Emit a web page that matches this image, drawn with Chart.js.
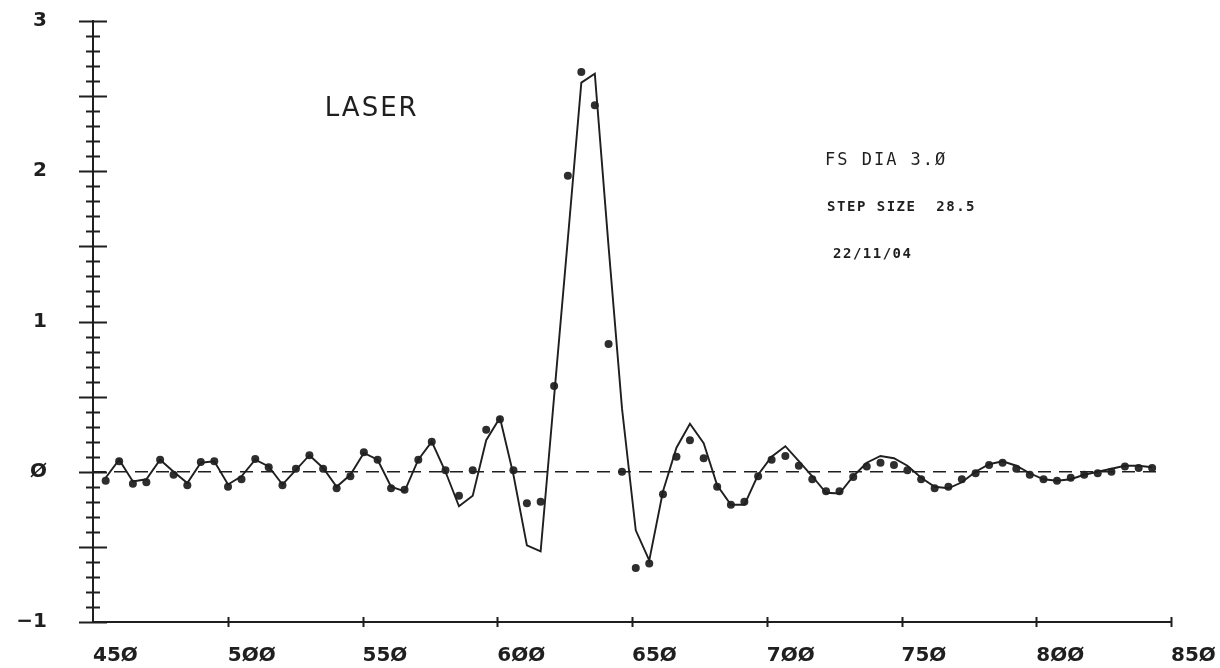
<!DOCTYPE html>
<html>
<head>
<meta charset="utf-8">
<title>LASER</title>
<script src="https://cdn.jsdelivr.net/npm/chart.js@4.4.1/dist/chart.umd.min.js"></script>
<style>
    html, body { margin: 0; padding: 0; background: #fff; }
    #wrap { width: 1220px; height: 668px; }
</style>
</head>
<body>
<div id="wrap"><canvas id="laserChart" width="1220" height="668"></canvas></div>
<script>
// sample positions (x)
const wavelength = [
    454.7, 459.7, 464.8, 469.8, 474.9, 479.9, 485.0, 490.0, 495.0, 500.1,
    505.1, 510.2, 515.2, 520.3, 525.3, 530.3, 535.4, 540.4, 545.5, 550.5,
    555.6, 560.6, 565.6, 570.7, 575.7, 580.8, 585.8, 590.9, 595.9, 601.0,
    606.0, 611.0, 616.1, 621.1, 626.2, 631.2, 636.2, 641.3, 646.3, 651.4,
    656.4, 661.5, 666.5, 671.5, 676.6, 681.6, 686.7, 691.7, 696.8, 701.8,
    706.9, 711.9, 716.9, 722.0, 727.0, 732.1, 737.1, 742.2, 747.2, 752.2,
    757.3, 762.3, 767.4, 772.4, 777.5, 782.5, 787.5, 792.6, 797.6, 802.7,
    807.7, 812.8, 817.8, 822.8, 827.9, 832.9, 838.0, 843.0
];

// dots (measured)
const measured = [
    -0.06, 0.07, -0.08, -0.07, 0.08, -0.02, -0.09, 0.065, 0.07, -0.10,
    -0.05, 0.085, 0.03, -0.09, 0.02, 0.11, 0.02, -0.11, -0.03, 0.13,
    0.08, -0.11, -0.12, 0.08, 0.20, 0.01, -0.16, 0.01, 0.28, 0.35,
    0.01, -0.21, -0.20, 0.57, 1.97, 2.66, 2.44, 0.85, 0.0, -0.64,
    -0.61, -0.15, 0.10, 0.21, 0.09, -0.10, -0.22, -0.20, -0.03, 0.08,
    0.105, 0.04, -0.05, -0.13, -0.13, -0.035, 0.035, 0.06, 0.045, 0.01,
    -0.05, -0.11, -0.10, -0.05, -0.01, 0.045, 0.06, 0.02, -0.02, -0.05,
    -0.06, -0.04, -0.02, -0.01, 0.0, 0.035, 0.025, 0.025
];

// solid line (calculated)
const fitted = [
    -0.04, 0.08, -0.065, -0.05, 0.08, 0.0, -0.075, 0.06, 0.07, -0.085,
    -0.03, 0.08, 0.035, -0.085, 0.013, 0.11, 0.025, -0.10, -0.02, 0.125,
    0.08, -0.10, -0.13, 0.08, 0.20, 0.0, -0.23, -0.16, 0.21, 0.36,
    -0.02, -0.49, -0.53, 0.50, 1.55, 2.59, 2.65, 1.5, 0.42, -0.39,
    -0.59, -0.13, 0.16, 0.32, 0.19, -0.09, -0.22, -0.22, -0.02, 0.10,
    0.17, 0.07, -0.03, -0.14, -0.145, -0.03, 0.06, 0.105, 0.09, 0.04,
    -0.04, -0.10, -0.11, -0.07, 0.0, 0.05, 0.07, 0.04, -0.01, -0.05,
    -0.06, -0.05, -0.02, 0.0, 0.02, 0.04, 0.04, 0.03
];

// dashed zero line
const baselineX = [450, 845];
const baselineY = [0, 0];

const xTicks = [450, 500, 550, 600, 650, 700, 750, 800, 850];
const yTicks = [-1, 0, 1, 2, 3];

const ink = '#1f1f1f';

// plotter style numbers: slashed zero, long minus
function plotterNum(v) {
    return String(v).replace(/0/g, 'Ø').replace('-', '−');
}

// tick marks crossing the axes, like the pen plotter draws them
const plotterMarks = {
    id: 'plotterMarks',
    afterDraw(chart) {
        const { ctx, chartArea, scales } = chart;
        const x0 = chartArea.left;
        const yb = chartArea.bottom;
        ctx.save();
        ctx.strokeStyle = ink;
        ctx.lineWidth = 2;
        ctx.beginPath();
        for (let t = -10; t <= 30; t++) {
            const py = Math.round(scales.y.getPixelForValue(t / 10)) + 0.5;
            const len = (t % 5 === 0) ? 14 : 7;
            ctx.moveTo(x0 - len, py);
            ctx.lineTo(x0 + len, py);
        }
        xTicks.forEach(v => {
            if (v === 450) return;
            const px = Math.round(scales.x.getPixelForValue(v)) + 0.5;
            ctx.moveTo(px, yb - 5);
            ctx.lineTo(px, yb + 5);
        });
        ctx.stroke();
        ctx.restore();
    }
};

// the hand-set notes on the sheet
const sheetNotes = {
    id: 'sheetNotes',
    afterDraw(chart) {
        const { ctx, scales } = chart;
        const put = (text, xv, yv, font, spacing) => {
            ctx.save();
            ctx.font = font;
            ctx.letterSpacing = spacing;
            ctx.fillStyle = ink;
            ctx.textAlign = 'left';
            ctx.textBaseline = 'middle';
            ctx.fillText(text, scales.x.getPixelForValue(xv), scales.y.getPixelForValue(yv));
            ctx.restore();
        };
        put('LASER', 536, 2.41, '26px "DejaVu Sans"', '2px');
        put('FS DIA 3.Ø', 721.6, 2.07, '17px "DejaVu Sans Mono"', '2px');
        put('STEP SIZE  28.5', 722.4, 1.757, 'bold 14px "DejaVu Sans Mono"', '1.5px');
        put('22/11/04', 724.6, 1.45, 'bold 14px "DejaVu Sans Mono"', '1.5px');
    }
};

function initLaserChart() {
    const ctx = document.getElementById('laserChart').getContext('2d');
    new Chart(ctx, {
        type: 'line',
        data: {
            datasets: [
                {
                    label: 'zero',
                    data: baselineX.map((x, i) => ({ x: x, y: baselineY[i] })),
                    borderColor: ink,
                    borderWidth: 1.6,
                    borderDash: [13, 8],
                    pointRadius: 0,
                    fill: false
                },
                {
                    label: 'calculated',
                    data: wavelength.map((x, i) => ({ x: x, y: fitted[i] })),
                    borderColor: ink,
                    borderWidth: 1.9,
                    pointRadius: 0,
                    tension: 0,
                    fill: false
                },
                {
                    label: 'measured',
                    data: wavelength.map((x, i) => ({ x: x, y: measured[i] })),
                    showLine: false,
                    pointRadius: 4,
                    pointBackgroundColor: '#2e2e2e',
                    pointBorderWidth: 0
                }
            ]
        },
        options: {
            responsive: false,
            devicePixelRatio: 1,
            animation: false,
            layout: { padding: { left: 0, top: 21, right: 49, bottom: 0 } },
            scales: {
                x: {
                    type: 'linear',
                    min: 450,
                    max: 850,
                    afterBuildTicks: axis => { axis.ticks = xTicks.map(v => ({ value: v })); },
                    afterFit: s => {
                        s.height = 46;
                        s.paddingLeft = 0;
                        s.paddingRight = 40;
                    },
                    grid: { display: false, drawTicks: false },
                    border: { display: true, color: ink, width: 2 },
                    ticks: {
                        autoSkip: false,
                        maxRotation: 0,
                        align: 'start',
                        padding: 22,
                        color: ink,
                        font: { family: 'DejaVu Sans', weight: 'bold', size: 20 },
                        callback: v => plotterNum(v)
                    }
                },
                y: {
                    type: 'linear',
                    min: -1,
                    max: 3,
                    afterBuildTicks: axis => { axis.ticks = yTicks.map(v => ({ value: v })); },
                    afterFit: s => {
                        s.width = 93;
                        s.paddingTop = 10;
                        s.paddingBottom = 10;
                    },
                    grid: { display: false, drawTicks: false },
                    border: { display: true, color: ink, width: 2 },
                    ticks: {
                        autoSkip: false,
                        padding: 46,
                        color: ink,
                        font: { family: 'DejaVu Sans', weight: 'bold', size: 20 },
                        callback: v => plotterNum(v)
                    }
                }
            },
            plugins: {
                legend: { display: false },
                tooltip: { enabled: false }
            }
        },
        plugins: [plotterMarks, sheetNotes]
    });
}

document.addEventListener('DOMContentLoaded', () => {
    initLaserChart();
});
</script>
</body>
</html>
